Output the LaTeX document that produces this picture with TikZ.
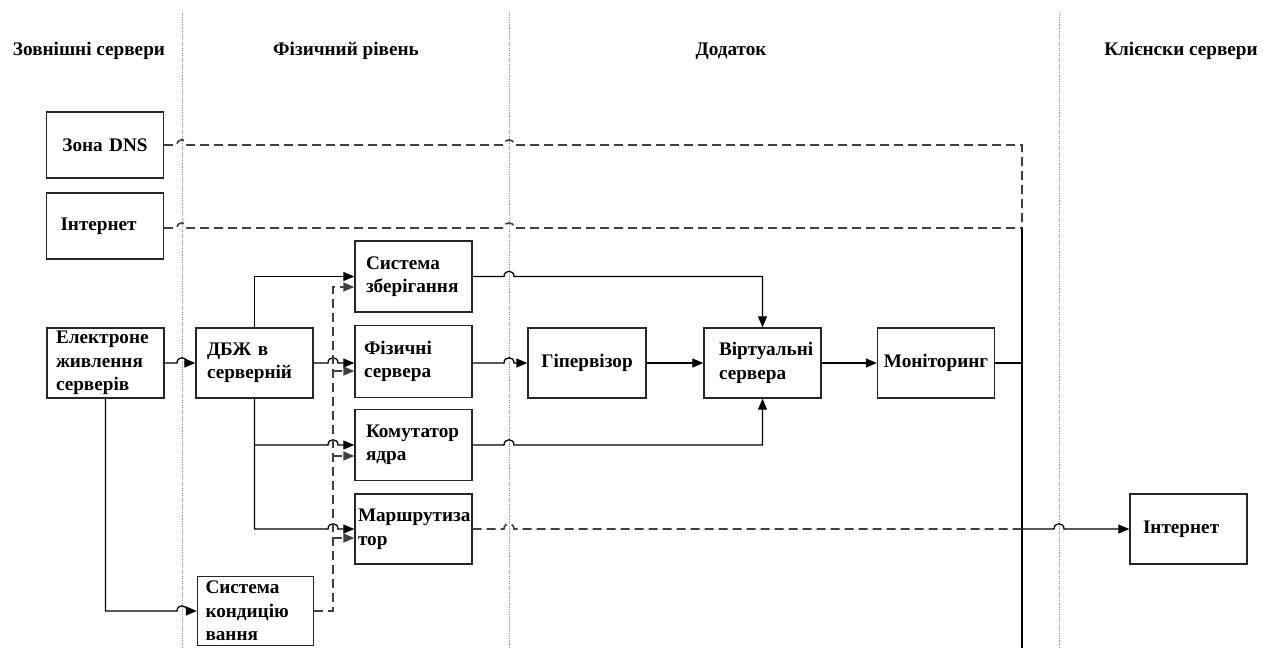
\documentclass[tikz,border=0pt]{standalone}
\usepackage{fontspec}
\setmainfont{Liberation Serif}
\usetikzlibrary{arrows.meta}
\newcommand\boxfont{\fontsize{19.2}{23.5}\selectfont\bfseries}
\begin{document}
\begin{tikzpicture}[x=1pt,y=-1pt,
  box/.style={draw=black!85, line width=1.4pt, fill=white, font=\boxfont, inner ysep=0pt},
  hdr/.style={font=\boxfont, inner sep=0pt},
  conn/.style={draw=black, line width=1.3pt},
  dconn/.style={draw=black!75, line width=1.6pt, dash pattern=on 9pt off 5pt},
  tip/.style={-{Triangle[length=11pt,width=9pt]}},
  divider/.style={draw=black!45, line width=0.9pt, dash pattern=on 1pt off 1.2pt},
  hop/.style 2 args={insert path={-- ({#1-5},#2) .. controls ({#1-5},{#2-7}) and ({#1+5},{#2-7}) .. ({#1+5},#2)}}
]
\fill[white] (0,0) rectangle (1273,648);
\useasboundingbox (0,0) rectangle (1273,648);

% column separators
\coordinate (s1t) at (182,13);  \coordinate (s1b) at (182,648);
\coordinate (s2t) at (509,13);  \coordinate (s2b) at (509,648);
\coordinate (s3t) at (1059,13); \coordinate (s3b) at (1059,648);
\draw[divider] (s1t) -- (s1b);
\draw[divider] (s2t) -- (s2b);
\draw[divider] (s3t) -- (s3b);

% column headers
\node[hdr] (h1) at (89,51)   {Зовнішні сервери};
\node[hdr] (h2) at (346,51)  {Фізичний рівень};
\node[hdr] (h3) at (731,51)  {Додаток};
\node[hdr] (h4) at (1181,51) {Клієнски сервери};

% blocks
\node[box, align=center, text width=101, inner xsep=8,  minimum height=66] (dns)   at (105,145)    {Зона DNS};
\node[box, align=left,   text width=89,  inner xsep=14, minimum height=66] (inet1) at (105,226)    {Інтернет};
\node[box, align=left,   text width=95,  inner xsep=11, minimum height=71] (store) at (413.5,276.5) {Система\\зберігання};
\node[box, align=left,   text width=99,  inner xsep=9,  minimum height=70] (elec)  at (105.5,363)  {Електроне\\живлення\\серверів};
\node[box, align=left,   text width=95,  inner xsep=11, minimum height=70] (dbj)   at (254.5,363)  {ДБЖ в\\серверній};
\node[box, align=left,   text width=99,  inner xsep=9,  minimum height=72] (phys)  at (413.5,361.5) {Фізичні\\сервера};
\node[box, align=center, text width=110, inner xsep=4,  minimum height=70] (hyp)   at (587,363)    {Гіпервізор};
\node[box, align=left,   text width=87,  inner xsep=15, minimum height=70] (virt)  at (762.5,363)  {Віртуальні\\сервера};
\node[box, align=center, text width=109, inner xsep=4,  minimum height=70] (mon)   at (936,363)    {Моніторинг};
\node[box, align=left,   text width=95,  inner xsep=11, minimum height=71] (kom)   at (413.5,445)  {Комутатор\\ядра};
\node[box, align=left,   text width=111, inner xsep=3,  minimum height=70] (route) at (413.5,529)  {Маршрутиза\\тор};
\node[box, align=left,   text width=100, inner xsep=8,  minimum height=69] (cond)  at (255.5,611)  {Система\\кондицію\\вання};
\node[box, align=left,   text width=91,  inner xsep=13, minimum height=70] (inet2) at (1188.5,529) {Інтернет};

% junction points
\coordinate (ttop) at (1022,228);
\coordinate (tbot) at (1022,648);
\coordinate (dtop) at (333,287);
\coordinate (d1) at (333,371);
\coordinate (d2) at (333,456);
\coordinate (d3) at (333,538);
\coordinate (jk) at (254.5,445);

% power supply
\draw[conn,tip] (elec.east) [hop={182}{363}] -- (dbj.west);
\draw[conn,tip] (elec.south) -- (elec.south |- cond.west) [hop={182}{611}] -- (cond.west);

% UPS feeds
\draw[conn,tip] (dbj.north) |- (store.west);
\draw[conn,tip] (dbj.east) [hop={333}{363}] -- (phys.west |- dbj.east);
\draw[conn,tip] (dbj.south) -- (dbj.south |- route.west) [hop={333}{529}] -- (route.west);
\draw[conn,tip] (jk) [hop={333}{445}] -- (kom.west);

% cooling feeds
\draw[dconn,tip] (cond.east) -| (dtop) -- (store.west |- dtop);
\draw[dconn,tip] (d1) -- (phys.west |- d1);
\draw[dconn,tip] (d2) -- (kom.west |- d2);
\draw[dconn,tip] (d3) -- (route.west |- d3);

% application layer
\draw[conn,tip] (store.east) [hop={509}{276.5}] -| (virt.north);
\draw[conn,tip] (kom.east) [hop={509}{445}] -| (virt.south);
\draw[conn,tip] (phys.east |- hyp.west) [hop={509}{363}] -- (hyp.west);
\draw[conn,tip] (hyp.east) -- (virt.west);
\draw[conn,tip] (virt.east) -- (mon.west);

% trunk to clients
\draw[conn] (ttop) -- (tbot);
\draw[conn] (mon.east) -- (mon.east -| ttop);
\draw[dconn] (dns.east) [hop={182}{145}] [hop={509}{145}] -- (dns.east -| ttop) -- (ttop);
\draw[dconn] (inet1.east |- ttop) [hop={182}{228}] [hop={509}{228}] -- (ttop);
\draw[dconn] (route.east) [hop={509}{529}] -- (route.east -| ttop);
\draw[conn,tip] (route.east -| ttop) [hop={1059}{529}] -- (inet2.west);
\end{tikzpicture}
\end{document}
